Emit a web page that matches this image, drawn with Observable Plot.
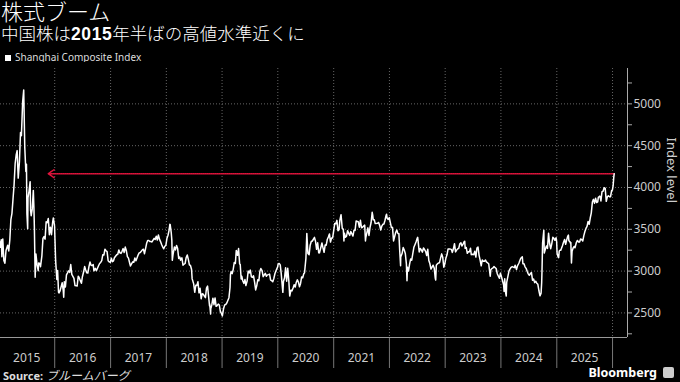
<!DOCTYPE html>
<html lang="ja"><head><meta charset="utf-8">
<script src="https://cdn.jsdelivr.net/npm/d3@7"></script>
<script src="https://cdn.jsdelivr.net/npm/@observablehq/plot@0.6"></script>
<style>
body{margin:0;background:#000;width:680px;height:382px;overflow:hidden;position:relative;font-family:"Noto Sans","Noto Sans CJK JP",sans-serif;color:#fff}
.abs{position:absolute;white-space:nowrap}
#title{left:1px;top:1px;font-size:22px;line-height:24px;font-family:"Liberation Sans","Noto Sans CJK JP";font-weight:300}
#subtitle{left:1px;top:25px;font-size:17.5px;line-height:19px;font-family:"Liberation Sans","Noto Sans CJK JP";font-weight:300}
#subtitle b{font-family:"Liberation Sans";font-weight:700;letter-spacing:0.6px}
#legend{left:5px;top:50px;font-size:10px;line-height:14px;color:#ddd}
#legend i{display:inline-block;width:6px;height:6px;background:#fff;margin-right:4px;vertical-align:0px}
#chart{left:0;top:62px}
#source{left:3px;top:368px;font-size:11px;line-height:14px;color:#ddd}
#source b{font-weight:700}
#source span{font-family:"Noto Sans CJK JP";font-style:italic;font-size:12px}
#brand{right:6px;top:364px;font-size:12.5px;line-height:18px;font-weight:700;color:#fff}
#brand i{display:inline-block;width:11px;height:11px;background:#ccc;border-radius:2px;margin-left:6px;vertical-align:-1px}
</style></head>
<body>
<div id="title" class="abs">株式ブーム</div>
<div id="subtitle" class="abs">中国株は<b>2015</b>年半ばの高値水準近くに</div>
<div id="legend" class="abs"><i></i>Shanghai Composite Index</div>
<div id="chart" class="abs"></div>
<div id="source" class="abs"><b>Source:</b> <span>ブルームバーグ</span></div>
<div id="brand" class="abs">Bloomberg<i></i></div>
<script>
// Shanghai Composite Index, approximate weekly closes
const y2015 = [["01-05",3351],["01-09",3285],["01-16",3376],["01-20",3173],["01-26",3383],["02-02",3128],["02-09",3095],["02-16",3247],["02-27",3310],["03-06",3241],["03-13",3372],["03-20",3617],["03-27",3691],["04-03",3863],["04-10",4034],["04-17",4287],["04-24",4393],["04-30",4441],["05-07",4112],["05-15",4308],["05-22",4657],["05-28",4620],["06-05",5023],["06-12",5166],["06-19",4478],["06-26",4192],["06-30",4277],["07-03",3687],["07-08",3507],["07-10",3877],["07-17",3957],["07-24",4070],["07-27",3725],["07-31",3663],["08-07",3744],["08-14",3965],["08-18",3748],["08-21",3507],["08-26",2927],["08-31",3206],["09-07",3080],["09-15",3005],["09-18",3097],["09-25",3092],["09-30",3053],["10-09",3183],["10-16",3391],["10-23",3412],["10-30",3383],["11-06",3590],["11-13",3580],["11-20",3630],["11-27",3436],["12-04",3525],["12-11",3435],["12-18",3578],["12-23",3636],["12-31",3539]];
const y2016 = [["01-04",3296],["01-07",3125],["01-11",3016],["01-15",2900],["01-20",3007],["01-26",2749],["01-29",2738],["02-05",2763],["02-19",2860],["02-26",2767],["02-29",2688],["03-04",2874],["03-11",2810],["03-18",2955],["03-25",2979],["03-31",3003],["04-08",2985],["04-15",3078],["04-22",2960],["04-29",2938],["05-06",2914],["05-13",2827],["05-20",2826],["05-27",2822],["06-03",2938],["06-08",2927],["06-17",2885],["06-24",2854],["06-30",2930],["07-08",2989],["07-15",3054],["07-22",3013],["07-29",2979],["08-05",2977],["08-12",3050],["08-19",3108],["08-26",3070],["09-02",3067],["09-09",3078],["09-14",3003],["09-23",3033],["09-30",3005],["10-14",3064],["10-21",3091],["10-28",3104],["11-04",3125],["11-11",3197],["11-18",3192],["11-25",3262],["12-02",3244],["12-09",3233],["12-16",3123],["12-23",3110],["12-30",3104]];
const y2017 = [["01-06",3154],["01-13",3113],["01-20",3123],["01-26",3159],["02-10",3196],["02-17",3202],["02-24",3253],["03-03",3218],["03-10",3212],["03-17",3237],["03-24",3269],["03-31",3223],["04-07",3287],["04-14",3246],["04-21",3173],["04-28",3155],["05-05",3103],["05-11",3061],["05-19",3090],["05-26",3111],["06-02",3106],["06-09",3158],["06-16",3123],["06-23",3158],["06-30",3192],["07-07",3218],["07-14",3222],["07-21",3238],["07-28",3254],["08-04",3262],["08-11",3208],["08-18",3269],["08-25",3332],["09-01",3367],["09-08",3366],["09-15",3353],["09-22",3353],["09-29",3349],["10-13",3391],["10-20",3378],["10-27",3416],["11-03",3372],["11-10",3433],["11-17",3382],["11-24",3353],["12-01",3318],["12-08",3290],["12-15",3267],["12-22",3297],["12-29",3307]];
const y2018 = [["01-05",3392],["01-12",3429],["01-19",3488],["01-24",3559],["01-26",3558],["02-02",3462],["02-06",3371],["02-09",3129],["02-14",3199],["02-23",3289],["03-02",3254],["03-09",3307],["03-16",3269],["03-23",3152],["03-30",3169],["04-04",3131],["04-13",3159],["04-20",3071],["04-27",3082],["05-04",3091],["05-11",3163],["05-18",3193],["05-25",3141],["06-01",3075],["06-08",3067],["06-15",3022],["06-19",2907],["06-22",2890],["06-29",2847],["07-06",2747],["07-13",2831],["07-20",2829],["07-27",2873],["08-03",2740],["08-10",2795],["08-17",2669],["08-24",2729],["08-31",2725],["09-07",2702],["09-14",2682],["09-21",2797],["09-28",2821],["10-11",2583],["10-12",2606],["10-18",2486],["10-19",2550],["10-26",2598],["11-02",2676],["11-09",2599],["11-16",2679],["11-23",2579],["11-30",2588],["12-07",2605],["12-14",2594],["12-21",2516],["12-28",2494]];
const y2019 = [["01-03",2464],["01-11",2553],["01-18",2596],["01-25",2601],["02-01",2618],["02-15",2682],["02-22",2804],["02-25",2961],["03-01",2994],["03-08",2969],["03-15",3021],["03-22",3104],["03-29",3091],["04-04",3247],["04-12",3189],["04-19",3270],["04-26",3086],["04-30",3078],["05-06",2906],["05-10",2939],["05-17",2882],["05-24",2853],["05-31",2899],["06-06",2827],["06-14",2882],["06-21",3001],["06-28",2979],["07-05",3012],["07-12",2931],["07-19",2925],["07-26",2944],["08-02",2868],["08-09",2775],["08-16",2824],["08-23",2898],["08-30",2886],["09-06",2999],["09-12",3031],["09-20",3006],["09-27",2933],["10-11",2974],["10-18",2939],["10-25",2955],["11-01",2958],["11-08",2964],["11-15",2892],["11-22",2886],["11-29",2872],["12-06",2912],["12-13",2968],["12-20",3005],["12-31",3050]];
const y2020 = [["01-03",3084],["01-10",3092],["01-17",3075],["01-23",2976],["02-03",2746],["02-07",2876],["02-14",2917],["02-21",3040],["02-28",2880],["03-06",3034],["03-13",2887],["03-19",2702],["03-27",2772],["04-03",2764],["04-10",2797],["04-17",2838],["04-24",2809],["04-30",2860],["05-08",2895],["05-15",2868],["05-22",2813],["05-29",2852],["06-05",2930],["06-12",2920],["06-19",2968],["06-24",2980],["07-03",3153],["07-09",3451],["07-16",3211],["07-24",3197],["07-31",3310],["08-07",3354],["08-14",3360],["08-21",3381],["08-28",3404],["09-04",3355],["09-11",3260],["09-18",3338],["09-25",3219],["09-30",3218],["10-16",3336],["10-23",3278],["10-30",3225],["11-06",3312],["11-13",3310],["11-20",3378],["11-27",3408],["12-04",3445],["12-11",3347],["12-18",3395],["12-25",3397],["12-31",3473]];
const y2021 = [["01-08",3570],["01-15",3566],["01-22",3607],["01-29",3483],["02-05",3496],["02-10",3604],["02-18",3675],["02-26",3509],["03-05",3502],["03-09",3360],["03-12",3454],["03-19",3405],["03-26",3418],["04-02",3484],["04-09",3451],["04-16",3427],["04-23",3474],["04-30",3447],["05-07",3419],["05-14",3490],["05-21",3487],["05-28",3600],["06-04",3592],["06-11",3590],["06-18",3525],["06-25",3607],["07-02",3519],["07-09",3524],["07-16",3539],["07-23",3550],["07-28",3361],["07-30",3397],["08-06",3458],["08-13",3517],["08-20",3427],["08-27",3522],["09-03",3581],["09-10",3703],["09-14",3662],["09-17",3613],["09-24",3613],["09-30",3568],["10-15",3572],["10-22",3582],["10-29",3547],["11-05",3491],["11-12",3539],["11-19",3560],["11-26",3564],["12-03",3608],["12-10",3666],["12-13",3681],["12-17",3632],["12-24",3618],["12-31",3640]];
const y2022 = [["01-07",3580],["01-14",3521],["01-21",3523],["01-28",3361],["02-11",3462],["02-18",3491],["02-25",3451],["03-04",3448],["03-09",3256],["03-15",3064],["03-16",3170],["03-25",3212],["04-01",3282],["04-08",3252],["04-15",3211],["04-22",3087],["04-26",2886],["04-29",3047],["05-06",3002],["05-13",3084],["05-20",3146],["05-27",3131],["06-02",3196],["06-10",3285],["06-17",3316],["06-24",3349],["07-01",3388],["07-05",3404],["07-08",3356],["07-15",3228],["07-22",3270],["07-29",3253],["08-05",3227],["08-12",3276],["08-19",3258],["08-26",3236],["09-02",3186],["09-09",3262],["09-16",3126],["09-23",3088],["09-30",3024],["10-14",3071],["10-21",3038],["10-28",2916],["10-31",2893],["11-04",3070],["11-11",3087],["11-18",3097],["11-25",3101],["12-02",3156],["12-09",3206],["12-16",3167],["12-23",3046],["12-30",3089]];
const y2023 = [["01-06",3157],["01-13",3195],["01-20",3265],["02-03",3263],["02-10",3260],["02-17",3224],["02-24",3267],["03-03",3328],["03-10",3230],["03-17",3251],["03-24",3266],["03-31",3273],["04-07",3327],["04-14",3338],["04-21",3301],["04-28",3323],["05-05",3350],["05-09",3357],["05-12",3272],["05-19",3283],["05-26",3213],["06-02",3231],["06-09",3231],["06-16",3273],["06-21",3197],["06-30",3202],["07-07",3197],["07-14",3237],["07-21",3168],["07-28",3276],["08-04",3288],["08-11",3189],["08-18",3131],["08-25",3064],["09-01",3133],["09-08",3117],["09-15",3117],["09-22",3132],["09-28",3110],["10-13",3088],["10-20",2983],["10-23",2939],["10-27",3017],["11-03",3030],["11-10",3038],["11-17",3054],["11-24",3041],["12-01",3031],["12-08",2969],["12-15",2942],["12-22",2914],["12-29",2975]];
const y2024 = [["01-05",2929],["01-12",2882],["01-19",2832],["01-22",2756],["01-26",2910],["02-02",2730],["02-05",2702],["02-08",2866],["02-23",3004],["03-01",3027],["03-08",3046],["03-15",3054],["03-22",3048],["03-29",3041],["04-03",3069],["04-12",3019],["04-19",3065],["04-26",3088],["04-30",3105],["05-10",3154],["05-20",3171],["05-24",3089],["05-31",3087],["06-07",3051],["06-14",3033],["06-21",2998],["06-28",2967],["07-05",2950],["07-12",2971],["07-19",2982],["07-26",2891],["08-02",2905],["08-09",2862],["08-16",2879],["08-23",2855],["08-30",2842],["09-06",2765],["09-13",2704],["09-20",2736],["09-24",2863],["09-26",3000],["09-30",3336],["10-08",3489],["10-11",3217],["10-18",3261],["10-25",3300],["11-01",3272],["11-08",3452],["11-15",3330],["11-22",3268],["11-29",3326],["12-06",3404],["12-13",3392],["12-20",3368],["12-27",3400],["12-31",3352]];
const y2025 = [["01-03",3211],["01-10",3169],["01-13",3160],["01-17",3241],["01-24",3252],["01-27",3250],["02-07",3303],["02-14",3346],["02-21",3379],["02-28",3321],["03-07",3373],["03-14",3419],["03-18",3430],["03-21",3364],["03-28",3351],["03-31",3336],["04-03",3342],["04-07",3097],["04-11",3238],["04-18",3277],["04-25",3295],["04-30",3279],["05-09",3342],["05-16",3367],["05-23",3348],["05-30",3347],["06-06",3385],["06-13",3377],["06-20",3360],["06-27",3424],["07-04",3473],["07-11",3510],["07-18",3534],["07-25",3594],["08-01",3560],["08-08",3635],["08-15",3697],["08-22",3826],["08-29",3858],["09-05",3812],["09-12",3871],["09-19",3820],["09-26",3828],["09-30",3883],["10-10",3897],["10-17",3839],["10-24",3950],["10-31",3955],["11-07",3997],["11-14",3990],["11-21",3834],["11-28",3888],["12-05",3902],["12-12",3889],["12-19",3890],["12-26",3963],["12-31",3969]];
const y2026 = [["01-05",4023],["01-09",4120],["01-12",4165]];

const years = [2015,2016,2017,2018,2019,2020,2021,2022,2023,2024,2025,2026];
const series = [y2015,y2016,y2017,y2018,y2019,y2020,y2021,y2022,y2023,y2024,y2025,y2026];
const yTicks = [2250,2500,2750,3000,3250,3500,3750,4000,4250,4500,4750,5000,5250];
const yGrid = [2500,3000,3500,4000,4500,5000];
const labelYears = [2015,2016,2017,2018,2019,2020,2021,2022,2023,2024,2025];
const arrowStart = "2015-11-20";

const data = series.flatMap((s, i) => s.map(([md, v]) => ({date: new Date(`${years[i]}-${md}T00:00:00Z`), value: v})));
const last = data[data.length - 1];
const bounds = years.slice(1).map(y => new Date(Date.UTC(y, 0, 1)));
const mids = labelYears.map(y => new Date(Date.UTC(y, 6, 2)));
const xDomain = [new Date("2015-01-11T00:00:00Z"), new Date("2026-04-09T00:00:00Z")];
const yDomain = [2206, 5423];

const chart = Plot.plot({
  width: 680, height: 320,
  marginTop: 6, marginBottom: 45, marginLeft: 0, marginRight: 53,
  style: {background: "#000", color: "#ccc", fontFamily: "Noto Sans, sans-serif", overflow: "visible"},
  x: {type: "utc", domain: xDomain, label: null},
  y: {domain: yDomain, label: null},
  marks: [
    Plot.ruleY(yGrid, {stroke: "#666", strokeDasharray: "1,2", strokeWidth: 1}),
    Plot.ruleX(bounds, {stroke: "#666", strokeDasharray: "1,2", strokeWidth: 1}),
    Plot.axisX(bounds, {tickSize: 31, tickFormat: () => "", stroke: "#777"}),
    Plot.axisX(mids, {tickSize: 0, tickPadding: 16, tickFormat: d => String(d.getUTCFullYear()), fontSize: 12, fill: "#ccc"}),
    Plot.ruleY([yDomain[0]], {stroke: "#999"}),
    Plot.ruleX([xDomain[1]], {stroke: "#aaa"}),
    Plot.axisY(yTicks, {anchor: "right", tickSize: 4, tickPadding: 2, stroke: "#aaa", fontSize: 12, fill: "#ccc", tickFormat: d => d % 500 === 0 ? String(d) : ""}),
    Plot.text(["Index level"], {frameAnchor: "right", dx: 44, rotate: 90, fontSize: 13, fill: "#ccc"}),
    Plot.arrow([{x1: last.date, x2: new Date(arrowStart + "T00:00:00Z"), y: last.value}], {x1: "x1", x2: "x2", y1: "y", y2: "y", stroke: "#e0143c", strokeWidth: 1.5, strokeDasharray: "1,1", headLength: 7, headAngle: 70}),
    Plot.line(data, {x: "date", y: "value", stroke: "#fff", strokeWidth: 1.5})
  ]
});
document.getElementById("chart").appendChild(chart);
</script>
</body></html>
